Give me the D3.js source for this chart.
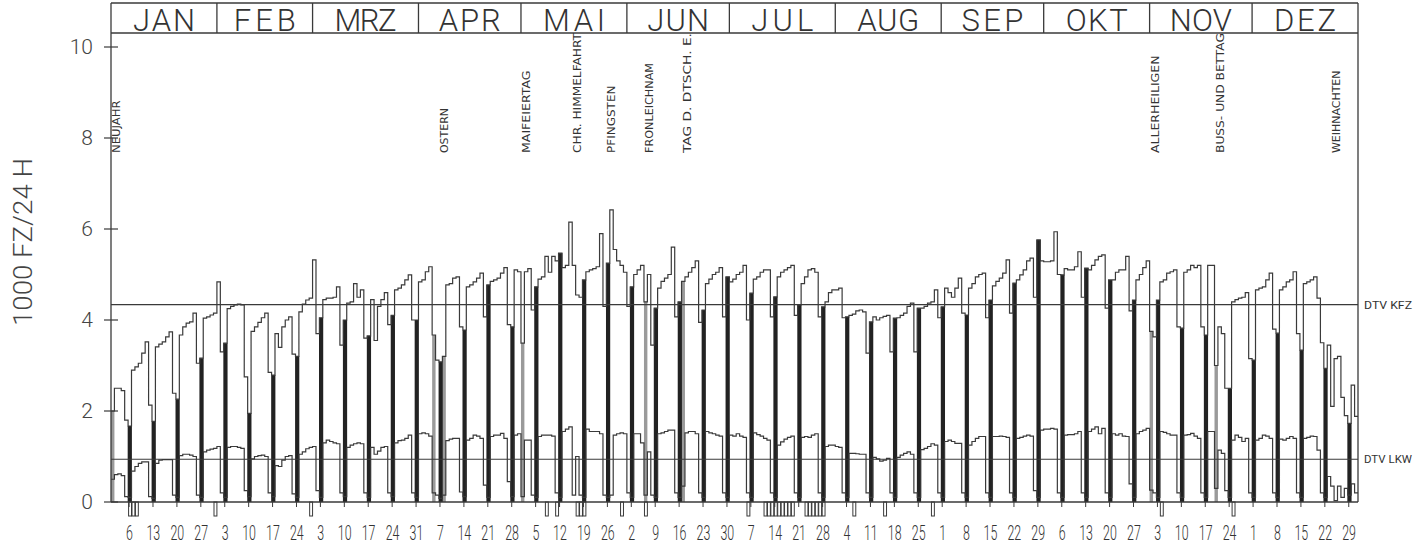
<!DOCTYPE html>
<html><head><meta charset="utf-8">
<script src="https://cdn.jsdelivr.net/npm/d3@7"></script>
<style>
body{margin:0;background:#fff;}
svg{display:block;}
</style></head><body>
<svg id="chart" width="1426" height="546"></svg>
<script>
// ---------- data ----------
const months = ["JAN","FEB","MRZ","APR","MAI","JUN","JUL","AUG","SEP","OKT","NOV","DEZ"];
const monthDays = [31,28,31,30,31,30,31,31,30,31,30,31];
const yTicks = [0,2,4,6,8,10];
const yTitle = "1000 FZ/24 H";
// Sundays of 1985 (day index 5 = 6 Jan)
const sundayDays = [5,12,19,26,33,40,47,54,61,68,75,82,89,96,103,110,117,124,131,138,145,152,159,166,173,180,187,194,201,208,215,222,229,236,243,250,257,264,271,278,285,292,299,306,313,320,327,334,341,348,355,362];
const sundayLabels = ["6","13","20","27","3","10","17","24","3","10","17","24","31","7","14","21","28","5","12","19","26","2","9","16","23","30","7","14","21","28","4","11","18","25","1","8","15","22","29","6","13","20","27","3","10","17","24","1","8","15","22","29"];
const holidayNames = ["NEUJAHR","OSTERN","MAIFEIERTAG","CHR. HIMMELFAHRT","PFINGSTEN","FRONLEICHNAM","TAG D. DTSCH. E.","ALLERHEILIGEN","BUSS- UND BETTAG","WEIHNACHTEN"];
const holidayDays  = [0,96,120,135,145,156,167,304,323,357];
const holidayFillDays = [0,94,97,120,156,167,304,323];
const markerDays = [5,6,7,30,58,127,130,136,137,138,149,156,186,191,192,193,194,195,196,197,198,199,203,204,205,206,207,208,217,226,240,307,328];
const dtvNames = ["DTV KFZ","DTV LKW"];
const dtvValues = [4.34, 0.94];
// daily values, 1000 vehicles / 24 h (1 Jan .. 31 Dec 1985)
const kfz = [
 2.0,2.5,2.5,2.45,1.8,1.67,
 2.9,2.97,3.05,3.27,3.52,2.13,1.77,
 3.41,3.47,3.52,3.63,3.74,2.39,2.26,
 3.67,3.85,3.93,3.96,4.15,3.05,3.16,
 4.04,4.07,4.11,4.15,4.84,3.3,3.49,
 4.25,4.3,4.33,4.35,4.33,2.75,1.95,
 3.75,3.85,3.95,4.05,4.15,2.85,2.79,
 3.7,3.4,3.85,4.0,4.07,3.25,3.2,
 4.18,4.35,4.44,4.48,5.32,3.7,4.05,
 4.45,4.48,4.48,4.5,4.73,3.45,4.0,
 4.37,4.4,4.8,4.5,4.66,3.6,3.65,
 4.45,3.55,4.3,4.45,4.6,3.9,4.1,
 4.66,4.7,4.77,4.88,4.99,4.0,4.0,
 4.84,4.88,5.06,5.17,3.67,3.12,3.08,
 3.2,4.77,4.8,4.92,4.95,3.85,3.78,
 4.73,4.77,4.84,4.92,5.03,4.07,4.77,
 4.85,4.88,4.92,5.03,5.15,3.9,3.85,
 5.1,5.06,3.49,5.06,5.13,4.22,4.73,
 4.9,4.95,5.4,5.05,5.4,5.3,5.47,
 5.15,5.2,6.15,5.2,4.55,4.5,4.88,
 5.06,5.1,5.13,5.17,5.9,4.3,5.25,
 6.42,5.55,5.3,5.2,5.05,4.3,4.73,
 5.0,5.1,5.2,4.4,5.0,3.45,4.26,
 4.7,4.85,4.92,5.0,5.6,4.07,4.4,
 4.85,4.95,5.05,5.15,5.3,3.95,4.22,
 4.8,4.9,5.0,5.05,5.15,4.07,4.95,
 4.84,4.9,5.0,5.05,5.2,4.0,4.59,
 4.9,4.95,5.05,5.1,5.1,4.07,4.51,
 4.95,5.05,5.1,5.15,5.2,4.1,4.33,
 4.8,4.95,5.1,5.13,5.05,4.07,4.29,
 4.4,4.6,4.66,4.66,4.7,4.05,4.07,
 4.1,4.13,4.2,4.22,4.18,3.27,3.96,
 4.07,4.0,4.05,4.08,4.1,3.3,4.04,
 4.05,4.1,4.15,4.3,4.37,3.3,4.26,
 4.26,4.3,4.37,4.4,4.66,4.05,4.29,
 4.7,4.6,4.5,4.7,4.92,4.15,4.11,
 4.7,4.8,4.95,5.0,5.03,4.05,4.44,
 4.75,4.85,4.92,5.03,5.32,4.15,4.81,
 4.88,4.99,5.1,5.3,5.36,4.5,5.76,
 5.3,5.28,5.28,5.3,5.94,5.0,4.99,
 5.13,5.1,5.1,5.17,5.5,4.5,5.14,
 5.1,5.2,5.32,5.4,5.43,4.26,4.88,
 4.88,5.05,5.1,5.1,5.4,4.2,4.44,
 4.88,5.0,5.15,5.3,3.75,3.63,4.44,
 4.84,4.88,5.03,5.06,5.1,3.85,3.82,
 5.05,5.1,5.2,5.15,5.2,3.85,3.67,
 5.2,5.2,3.0,3.85,3.7,2.5,2.5,
 4.4,4.45,4.48,4.5,4.6,3.15,3.12,
 4.66,4.7,4.73,4.88,5.03,3.8,3.71,
 4.66,4.73,4.84,4.88,5.06,3.7,3.34,
 4.8,4.84,4.88,4.95,4.48,3.5,2.94,
 3.45,2.1,3.15,3.2,2.3,1.9,1.73,
 2.57,1.88
];
const lkw = [
 0.5,0.6,0.62,0.58,0.12,0.1,
 0.68,0.78,0.85,0.88,0.88,0.12,0.08,
 0.85,0.92,0.93,0.93,0.93,0.15,0.1,
 1.02,1.05,1.05,1.03,1.0,0.15,0.1,
 1.1,1.14,1.16,1.18,1.22,0.2,0.1,
 1.2,1.22,1.22,1.2,1.18,0.25,0.12,
 0.95,1.0,1.02,1.03,1.0,0.2,0.12,
 0.8,0.78,0.92,1.0,1.02,0.18,0.1,
 1.05,1.1,1.17,1.2,1.22,0.25,0.1,
 1.3,1.36,1.33,1.3,1.28,0.2,0.12,
 1.2,1.25,1.28,1.3,1.28,0.2,0.1,
 1.2,1.05,1.12,1.2,1.22,0.2,0.12,
 1.3,1.35,1.36,1.4,1.47,0.2,0.1,
 1.5,1.52,1.5,1.45,0.2,0.15,0.08,
 0.15,1.35,1.38,1.4,1.4,0.22,0.12,
 1.36,1.4,1.47,1.45,1.4,0.37,0.1,
 1.44,1.47,1.47,1.51,1.4,0.45,0.12,
 1.47,1.5,0.12,1.36,1.36,0.15,0.1,
 1.44,1.47,1.47,1.47,1.45,0.2,0.1,
 1.55,1.6,1.65,0.15,1.0,0.15,0.1,
 1.6,1.55,1.55,1.55,1.5,0.15,0.1,
 0.15,1.47,1.5,1.52,1.5,0.2,0.1,
 1.5,1.5,1.3,0.15,1.1,0.15,0.1,
 1.5,1.52,1.55,1.58,1.58,0.2,0.1,
 0.35,1.52,1.55,1.55,1.5,0.2,0.1,
 1.55,1.52,1.5,1.47,1.45,0.2,0.1,
 1.47,1.45,1.5,1.45,1.42,0.2,0.1,
 1.52,1.48,1.45,1.4,1.36,0.2,0.1,
 1.25,1.32,1.38,1.42,1.45,0.2,0.1,
 1.42,1.44,1.42,1.47,1.5,0.2,0.1,
 1.22,1.25,1.25,1.22,1.2,0.2,0.1,
 1.07,1.07,1.06,1.05,1.05,0.2,0.1,
 0.98,0.95,0.9,0.92,0.96,0.2,0.1,
 0.98,1.03,1.07,1.1,1.05,0.2,0.1,
 1.15,1.18,1.22,1.28,1.25,0.2,0.1,
 1.33,1.36,1.33,1.29,1.29,0.2,0.1,
 1.25,1.33,1.4,1.44,1.44,0.2,0.1,
 1.44,1.44,1.45,1.44,1.42,0.2,0.1,
 1.4,1.42,1.45,1.47,1.45,0.25,0.1,
 1.58,1.6,1.6,1.62,1.6,0.2,0.1,
 1.47,1.48,1.48,1.5,1.55,0.2,0.1,
 1.55,1.6,1.65,1.5,1.62,0.2,0.1,
 1.5,1.47,1.5,1.45,1.44,0.4,0.1,
 1.5,1.55,1.58,1.62,0.26,0.2,0.1,
 1.55,1.53,1.5,1.47,1.47,0.2,0.1,
 1.47,1.48,1.51,1.45,1.4,0.2,0.1,
 1.55,1.55,0.3,1.14,1.07,0.25,0.1,
 1.36,1.47,1.42,1.33,1.4,0.2,0.1,
 1.36,1.4,1.47,1.45,1.4,0.2,0.1,
 1.38,1.36,1.4,1.44,1.4,0.2,0.1,
 1.4,1.42,1.45,1.44,1.14,0.2,0.1,
 0.56,0.35,0.03,0.35,0.1,0.3,0.15,
 0.4,0.2
];

// ---------- layout ----------
const L = 111, R = 1358, B = 502, HT = 3, HB = 33;
const ink = "#3a3a3a";
const svg = d3.select("#chart");
const x = d3.scaleLinear().domain([0, 365]).range([L, R]);
const y = d3.scaleLinear().domain([0, 10]).range([B, 47]);
const font = "Roboto, 'DejaVu Sans', sans-serif";

// filled Sunday / holiday bars
svg.append("g").selectAll("rect").data(holidayFillDays).join("rect")
  .attr("x", d => x(d)).attr("width", d => x(d + 1) - x(d))
  .attr("y", d => y(kfz[d])).attr("height", d => y(0) - y(kfz[d]))
  .attr("fill", "#9a9a9a");
svg.append("g").selectAll("rect").data(sundayDays).join("rect")
  .attr("x", d => x(d) - 0.4).attr("width", d => x(d + 1) - x(d) + 0.8)
  .attr("y", d => y(kfz[d])).attr("height", d => y(0) - y(kfz[d]))
  .attr("fill", "#222");

// step lines
const step = d3.line().x(p => x(p[0])).y(p => y(p[1])).curve(d3.curveStepAfter);
function pts(arr){ const p = arr.map((v,i)=>[i,v]); p.push([arr.length, arr[arr.length-1]]); return p; }
svg.append("path").attr("d", step(pts(kfz))).attr("fill","none").attr("stroke",ink).attr("stroke-width",1.2);
svg.append("path").attr("d", step(pts(lkw))).attr("fill","none").attr("stroke",ink).attr("stroke-width",1.2);

// DTV reference lines
svg.append("g").selectAll("line").data(dtvValues).join("line")
  .attr("x1", L).attr("x2", R).attr("y1", d => y(d)).attr("y2", d => y(d))
  .attr("stroke", ink).attr("stroke-width", 1.2);
svg.append("g").selectAll("text").data(dtvNames).join("text")
  .attr("x", R + 6).attr("y", (d,i) => y(dtvValues[i]) + 4)
  .attr("font-family", font).attr("font-size", 10.5).attr("fill", "#333")
  .attr("textLength", 48).attr("lengthAdjust", "spacingAndGlyphs")
  .text(d => d);

// frame
const fr = svg.append("g").attr("stroke", ink).attr("stroke-width", 1.3).attr("fill","none");
fr.append("line").attr("x1", L).attr("x2", R).attr("y1", B).attr("y2", B);
fr.append("line").attr("x1", L).attr("x2", L).attr("y1", HT).attr("y2", B);
fr.append("line").attr("x1", R).attr("x2", R).attr("y1", HT).attr("y2", B);
fr.append("line").attr("x1", L).attr("x2", R).attr("y1", HT).attr("y2", HT);
fr.append("line").attr("x1", L).attr("x2", R).attr("y1", HB).attr("y2", HB);

// month header
const starts = monthDays.map((m,i) => d3.sum(monthDays.slice(0,i)));
fr.selectAll("line.md").data(starts.slice(1)).join("line").attr("class","md")
  .attr("x1", d => x(d)).attr("x2", d => x(d)).attr("y1", HT).attr("y2", HB);
svg.append("g").selectAll("text").data(months).join("text")
  .attr("x", (d,i) => x(starts[i] + monthDays[i] / 2)).attr("y", 31)
  .attr("text-anchor", "middle").attr("font-family", font).attr("font-weight", 300)
  .attr("font-size", 31).attr("fill", "#333")
  .attr("textLength", 62).attr("lengthAdjust", "spacing")
  .text(d => d);

// y axis ticks and labels
svg.append("g").selectAll("line").data(yTicks).join("line")
  .attr("x1", L - 7).attr("x2", L + 7).attr("y1", d => y(d)).attr("y2", d => y(d))
  .attr("stroke", ink).attr("stroke-width", 1.2);
svg.append("g").selectAll("text").data(yTicks).join("text")
  .attr("x", 93).attr("y", d => y(d) + 7).attr("text-anchor", "end")
  .attr("font-family", font).attr("font-weight", 300).attr("font-size", 21).attr("fill", "#444")
  .text(d => d);
svg.append("text").attr("transform", "translate(32,326) rotate(-90)")
  .attr("font-family", font).attr("font-weight", 300).attr("font-size", 26).attr("fill", "#444")
  .attr("textLength", 168).attr("lengthAdjust", "spacingAndGlyphs")
  .text(yTitle);

// x ticks (Sundays) and labels
svg.append("g").selectAll("line").data(sundayDays).join("line")
  .attr("x1", d => x(d) + 1).attr("x2", d => x(d) + 1).attr("y1", B).attr("y2", B + 5)
  .attr("stroke", ink).attr("stroke-width", 1);
svg.append("g").selectAll("text").data(sundayLabels).join("text")
  .attr("transform", (d,i) => `translate(${x(sundayDays[i] + 0.4)},540) scale(0.62,1)`)
  .attr("text-anchor", "middle").attr("font-family", font).attr("font-weight", 300)
  .attr("font-size", 20).attr("fill", "#333")
  .text(d => d);

// marker boxes below baseline
svg.append("g").selectAll("rect").data(markerDays).join("rect")
  .attr("x", d => x(d) + 0.5).attr("width", d => x(d + 1) - x(d) - 0.5)
  .attr("y", B).attr("height", 14)
  .attr("fill", "none").attr("stroke", ink).attr("stroke-width", 1);

// holiday labels
svg.append("g").selectAll("text").data(holidayNames).join("text")
  .attr("transform", (d,i) => `translate(${x(holidayDays[i]) + 9},153) rotate(-90)`)
  .attr("font-family", "'DejaVu Sans', sans-serif").attr("font-size", 11).attr("fill", "#333")
  .attr("textLength", d => d.length * 7.5).attr("lengthAdjust", "spacingAndGlyphs")
  .text(d => d);
</script>
</body></html>
